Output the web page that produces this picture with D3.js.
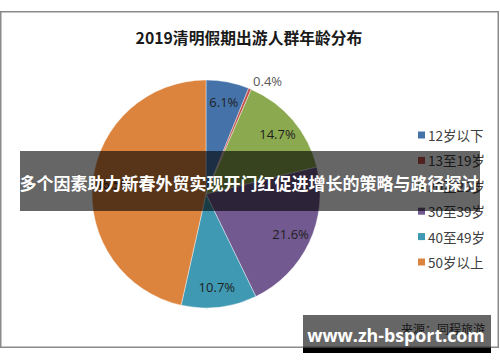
<!DOCTYPE html>
<html>
<head>
<meta charset="utf-8">
<script src="https://cdn.jsdelivr.net/npm/d3@7"></script>
<style>
    body { margin: 0; background: #fff; }
    svg { display: block; font-family: "Noto Sans CJK SC", "Noto Sans", sans-serif; }
</style>
</head>
<body>
<svg id="chart"></svg>
<script>
const chartTitle = "2019清明假期出游人群年龄分布";
const categories = ["12岁以下", "13至19岁", "20至29岁", "30至39岁", "40至49岁", "50岁以上"];
const shares = [6.1, 0.4, 14.7, 21.6, 10.7, 46.5];
const sliceColors = ["#4573a9", "#c4504c", "#8ba94f", "#72598f", "#4099b2", "#dc843e"];
const sourceNote = "来源：同程旅游";
const bannerText = "多个因素助力新春外贸实现开门红促进增长的策略与路径探讨";
const watermark = "www.zh-bsport.com";

const width = 500, height = 362;
const cx = 206, cy = 194, radius = 114;

const svg = d3.select("#chart")
    .attr("width", width)
    .attr("height", height);

// chart frame
svg.append("rect")
    .attr("x", 0.75).attr("y", 11.75)
    .attr("width", 497.5).attr("height", 335.5)
    .attr("fill", "#fff")
    .attr("stroke", "#8a8a8a")
    .attr("stroke-width", 1.5);

svg.append("text")
    .attr("x", 249).attr("y", 37)
    .attr("text-anchor", "middle")
    .attr("dominant-baseline", "central")
    .attr("font-size", 15.8)
    .attr("font-weight", "bold")
    .attr("fill", "#1a1a1a")
    .text(chartTitle);

const data = categories.map((c, i) => ({ category: c, value: shares[i], color: sliceColors[i] }));

const pie = d3.pie().value(d => d.value).sort(null);
const arc = d3.arc().innerRadius(0).outerRadius(radius);
const labelArc = d3.arc().innerRadius(radius * 0.82).outerRadius(radius * 0.82);

const arcs = pie(data);
const g = svg.append("g").attr("transform", `translate(${cx},${cy})`);

g.selectAll(".slice")
    .data(arcs)
    .join("path")
    .attr("class", "slice")
    .attr("d", arc)
    .attr("fill", d => d.data.color)
    .attr("stroke", "#fff")
    .attr("stroke-width", 0.4);

g.selectAll(".label")
    .data(arcs)
    .join("text")
    .attr("class", "label")
    .each(function (d) {
        const t = d3.select(this);
        const mid = (d.startAngle + d.endAngle) / 2;
        if (d.data.value < 2) {
            const r = radius + 8;
            t.attr("x", Math.sin(mid) * r)
                .attr("y", -Math.cos(mid) * r)
                .attr("text-anchor", "start")
                .attr("fill", "#595959");
        } else {
            const [x, y] = labelArc.centroid(d);
            t.attr("x", x).attr("y", y)
                .attr("text-anchor", "middle")
                .attr("fill", "#1f1f1f");
        }
    })
    .attr("dominant-baseline", "central")
    .attr("font-size", 13)
    .attr("font-family", "'Open Sans', 'Noto Sans', sans-serif")
    .text(d => d.data.value.toFixed(1) + "%");

// legend
const legendY = d3.scalePoint().domain(categories).range([135, 262]);
const legend = svg.append("g");
const item = legend.selectAll(".item")
    .data(data)
    .join("g")
    .attr("class", "item")
    .attr("transform", d => `translate(418,${legendY(d.category)})`);
item.append("rect")
    .attr("x", 0).attr("y", -3.5)
    .attr("width", 7).attr("height", 7)
    .attr("fill", d => d.color);
item.append("text")
    .attr("x", 10)
    .attr("dominant-baseline", "central")
    .attr("font-size", 13.5)
    .attr("fill", "#404040")
    .text(d => d.category);

svg.append("text")
    .attr("x", 485).attr("y", 328)
    .attr("text-anchor", "end")
    .attr("dominant-baseline", "central")
    .attr("font-size", 12)
    .attr("fill", "#404040")
    .text(sourceNote);

// overlay banner
svg.append("rect")
    .attr("x", 20).attr("y", 151)
    .attr("width", 460).attr("height", 60)
    .attr("fill", "rgba(0,0,0,0.6)");
svg.append("text")
    .attr("x", 249).attr("y", 182)
    .attr("text-anchor", "middle")
    .attr("dominant-baseline", "central")
    .attr("font-size", 17)
    .attr("font-weight", "bold")
    .attr("fill", "#fff")
    .text(bannerText);

// watermark
svg.append("rect")
    .attr("x", 303).attr("y", 315)
    .attr("width", 188).attr("height", 33)
    .attr("fill", "rgba(0,0,0,0.6)");
svg.append("rect")
    .attr("x", 303).attr("y", 348)
    .attr("width", 188).attr("height", 5)
    .attr("fill", "#000");
svg.append("text")
    .attr("x", 396).attr("y", 335)
    .attr("text-anchor", "middle")
    .attr("dominant-baseline", "central")
    .attr("font-size", 17.8)
    .attr("font-weight", "bold")
    .attr("font-family", "'Open Sans', sans-serif")
    .attr("fill", "#fff")
    .text(watermark);
</script>
</body>
</html>
